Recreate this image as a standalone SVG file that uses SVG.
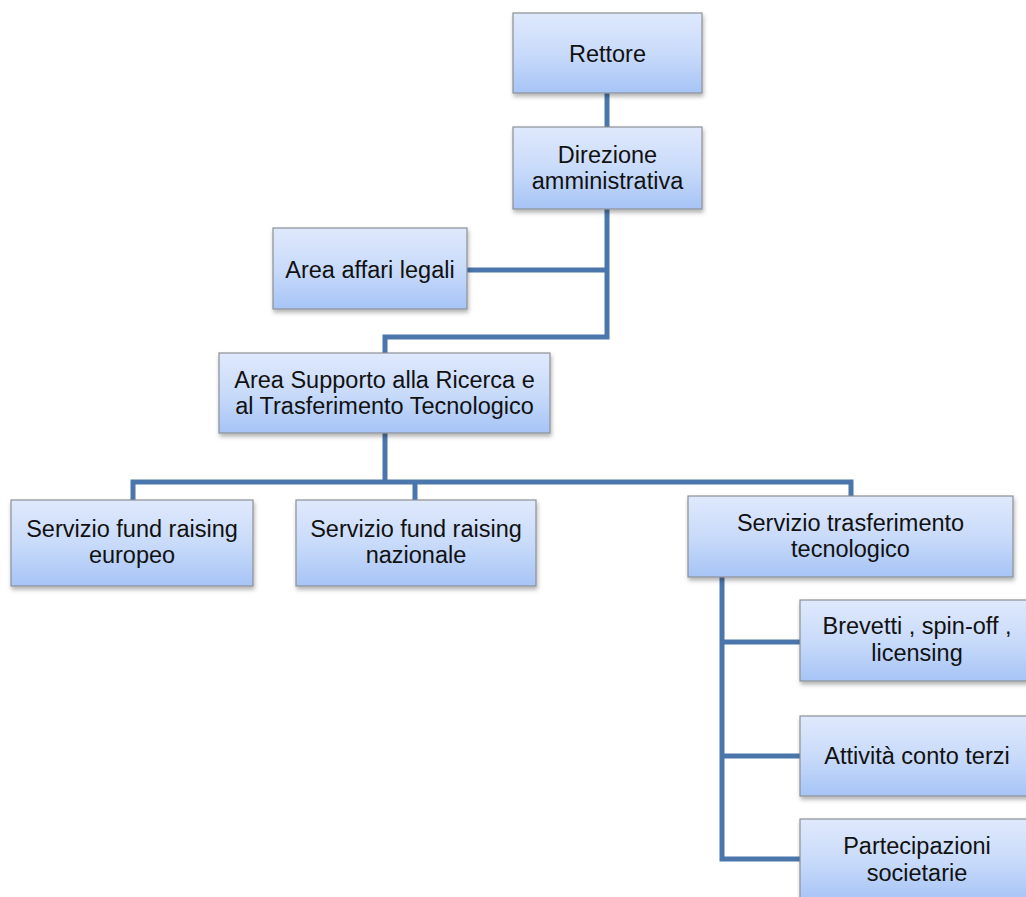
<svg xmlns="http://www.w3.org/2000/svg" width="1026" height="897" viewBox="0 0 1026 897">
<defs>
<linearGradient id="g" x1="0" y1="0" x2="0" y2="1">
<stop offset="0" stop-color="#dfe9fc"/>
<stop offset="0.5" stop-color="#c9dbfa"/>
<stop offset="1" stop-color="#a6c4f6"/>
</linearGradient>
<filter id="sh" x="-5%" y="-10%" width="115%" height="130%">
<feDropShadow dx="1" dy="3" stdDeviation="2" flood-color="#000" flood-opacity="0.3"/>
</filter>
</defs>
<style>
.box{fill:url(#g);stroke:#8c8f96;stroke-width:1.2;filter:url(#sh)}
.t{font-family:"Liberation Sans",Arial,sans-serif;font-size:23.5px;fill:#111;text-anchor:middle}
.c{fill:none;stroke:#4a76ab;stroke-width:5;stroke-linejoin:miter}
</style>
<rect width="1026" height="897" fill="#fff"/>
<g id="connectors">
<path class="c" d="M607 93V127"/>
<path class="c" d="M607 209V337H385V353"/>
<path class="c" d="M467 270H607"/>
<path class="c" d="M385 433V482"/>
<path class="c" d="M133 500V482H851V496"/>
<path class="c" d="M415 482V500"/>
<path class="c" d="M722 577V859H800"/>
<path class="c" d="M722 642H800"/>
<path class="c" d="M722 756H800"/>
</g>
<g id="rettore">
<rect class="box" x="513" y="13" width="189" height="80"/>
<text class="t" x="607.5" y="62">Rettore</text>
</g>
<g id="direzione">
<rect class="box" x="513" y="127" width="189" height="82"/>
<text class="t" x="607.5" y="163">Direzione</text>
<text class="t" x="607.5" y="189">amministrativa</text>
</g>
<g id="affari-legali">
<rect class="box" x="273" y="228" width="194" height="81"/>
<text class="t" x="370" y="278">Area affari legali</text>
</g>
<g id="area-supporto">
<rect class="box" x="219" y="353" width="331" height="80"/>
<text class="t" x="384.5" y="388">Area Supporto alla Ricerca e</text>
<text class="t" x="384.5" y="414">al Trasferimento Tecnologico</text>
</g>
<g id="fund-europeo">
<rect class="box" x="11" y="500" width="242" height="86"/>
<text class="t" x="132" y="537">Servizio fund raising</text>
<text class="t" x="132" y="563">europeo</text>
</g>
<g id="fund-nazionale">
<rect class="box" x="296" y="500" width="240" height="86"/>
<text class="t" x="416" y="537">Servizio fund raising</text>
<text class="t" x="416" y="563">nazionale</text>
</g>
<g id="trasferimento">
<rect class="box" x="688" y="496" width="325" height="81"/>
<text class="t" x="850.5" y="531">Servizio trasferimento</text>
<text class="t" x="850.5" y="557">tecnologico</text>
</g>
<g id="brevetti">
<rect class="box" x="800" y="600" width="234" height="81"/>
<text class="t" x="917" y="634">Brevetti , spin-off ,</text>
<text class="t" x="917" y="661">licensing</text>
</g>
<g id="conto-terzi">
<rect class="box" x="800" y="716" width="234" height="80"/>
<text class="t" x="917" y="764">Attività conto terzi</text>
</g>
<g id="partecipazioni">
<rect class="box" x="800" y="819" width="234" height="82"/>
<text class="t" x="917" y="854">Partecipazioni</text>
<text class="t" x="917" y="881">societarie</text>
</g>
</svg>
